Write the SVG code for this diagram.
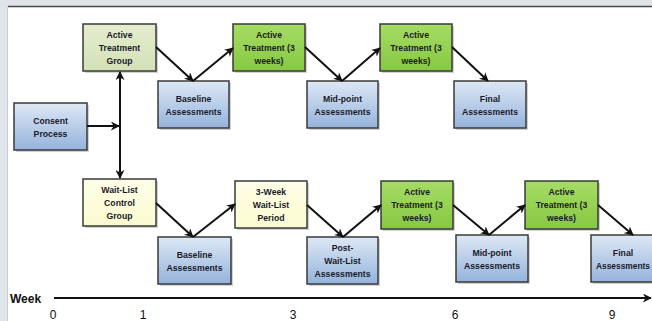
<svg xmlns="http://www.w3.org/2000/svg" width="652" height="321" viewBox="0 0 652 321">
<defs>
<linearGradient id="gBlue" x1="0" y1="0" x2="0" y2="1"><stop offset="0" stop-color="#dde8f5"/><stop offset="1" stop-color="#95b3dc"/></linearGradient>
<linearGradient id="gGreen" x1="0" y1="0" x2="0" y2="1"><stop offset="0" stop-color="#a6dc64"/><stop offset="1" stop-color="#86c843"/></linearGradient>
<linearGradient id="gLG" x1="0" y1="0" x2="0" y2="1"><stop offset="0" stop-color="#e4edcf"/><stop offset="1" stop-color="#d3e1b6"/></linearGradient>
<linearGradient id="gY" x1="0" y1="0" x2="0" y2="1"><stop offset="0" stop-color="#fefee8"/><stop offset="1" stop-color="#fbfbd0"/></linearGradient>
<marker id="ah2" viewBox="0 0 10 10" refX="9" refY="5" markerWidth="9" markerHeight="9" orient="auto-start-reverse" markerUnits="userSpaceOnUse"><path d="M0,0 L10,5 L0,10 L3,5 Z" fill="#111"/></marker>
</defs>
<style>
.box{stroke:#3a3a3a;stroke-width:1.5}
.sh{fill:#000;opacity:0.18}
.t{font-family:"Liberation Sans",Arial,sans-serif;font-weight:bold;font-size:8.7px;fill:#1a1a2a;text-anchor:middle}
.c{stroke:#111;stroke-width:2;fill:none;marker-end:url(#ah2)}
.ax{font-family:"Liberation Sans",Arial,sans-serif;font-size:12px;fill:#111;text-anchor:middle}
</style>
<rect x="0" y="0" width="652" height="321" fill="#dfe4ea"/>
<rect x="8" y="7" width="644" height="314" fill="#ffffff"/>
<line x1="8" y1="6.5" x2="652" y2="6.5" stroke="#4a4a4a" stroke-width="1.5"/>
<line x1="7.5" y1="7" x2="7.5" y2="321" stroke="#c8ced6" stroke-width="1"/>

<g id="consent"><rect class="sh" x="16" y="105" width="73" height="47"/><rect class="box" x="14" y="103" width="73" height="47" fill="url(#gBlue)"/><text class="t" x="50.5" y="124">Consent</text><text class="t" x="50.5" y="137">Process</text></g>

<g id="atg"><rect class="sh" x="85" y="26" width="73" height="47"/><rect class="box" x="83" y="24" width="73" height="47" fill="url(#gLG)"/><text class="t" x="119.5" y="38">Active</text><text class="t" x="119.5" y="51">Treatment</text><text class="t" x="119.5" y="64">Group</text></g>
<g id="base1"><rect class="sh" x="160" y="83" width="71" height="47"/><rect class="box" x="158" y="81" width="71" height="47" fill="url(#gBlue)"/><text class="t" x="193.5" y="102">Baseline</text><text class="t" x="193.5" y="115">Assessments</text></g>
<g id="at1"><rect class="sh" x="235" y="26" width="72" height="47"/><rect class="box" x="233" y="24" width="72" height="47" fill="url(#gGreen)"/><text class="t" x="269" y="38">Active</text><text class="t" x="269" y="51">Treatment (3</text><text class="t" x="269" y="64">weeks)</text></g>
<g id="mid1"><rect class="sh" x="309" y="83" width="71" height="47"/><rect class="box" x="307" y="81" width="71" height="47" fill="url(#gBlue)"/><text class="t" x="342.5" y="102">Mid-point</text><text class="t" x="342.5" y="115">Assessments</text></g>
<g id="at2"><rect class="sh" x="382" y="26" width="72" height="47"/><rect class="box" x="380" y="24" width="72" height="47" fill="url(#gGreen)"/><text class="t" x="416" y="38">Active</text><text class="t" x="416" y="51">Treatment (3</text><text class="t" x="416" y="64">weeks)</text></g>
<g id="final1"><rect class="sh" x="456" y="83" width="72" height="47"/><rect class="box" x="454" y="81" width="72" height="47" fill="url(#gBlue)"/><text class="t" x="490" y="102">Final</text><text class="t" x="490" y="115">Assessments</text></g>

<g id="wl"><rect class="sh" x="85" y="181" width="73" height="47"/><rect class="box" x="83" y="179" width="73" height="47" fill="url(#gY)"/><text class="t" x="119.5" y="193">Wait-List</text><text class="t" x="119.5" y="206">Control</text><text class="t" x="119.5" y="219">Group</text></g>
<g id="base2"><rect class="sh" x="160" y="239" width="73" height="47"/><rect class="box" x="158" y="237" width="73" height="47" fill="url(#gBlue)"/><text class="t" x="194.5" y="258">Baseline</text><text class="t" x="194.5" y="271">Assessments</text></g>
<g id="wait3"><rect class="sh" x="237" y="183" width="72" height="47"/><rect class="box" x="235" y="181" width="72" height="47" fill="url(#gY)"/><text class="t" x="271" y="195">3-Week</text><text class="t" x="271" y="208">Wait-List</text><text class="t" x="271" y="221">Period</text></g>
<g id="post"><rect class="sh" x="309" y="239" width="71" height="47"/><rect class="box" x="307" y="237" width="71" height="47" fill="url(#gBlue)"/><text class="t" x="342.5" y="251">Post-</text><text class="t" x="342.5" y="264">Wait-List</text><text class="t" x="342.5" y="277">Assessments</text></g>
<g id="atb1"><rect class="sh" x="383" y="183" width="72" height="48"/><rect class="box" x="381" y="181" width="72" height="48" fill="url(#gGreen)"/><text class="t" x="417" y="195">Active</text><text class="t" x="417" y="208">Treatment (3</text><text class="t" x="417" y="221">weeks)</text></g>
<g id="midb"><rect class="sh" x="458" y="237" width="72" height="47"/><rect class="box" x="456" y="235" width="72" height="47" fill="url(#gBlue)"/><text class="t" x="492" y="256">Mid-point</text><text class="t" x="492" y="269">Assessments</text></g>
<g id="atb2"><rect class="sh" x="527" y="183" width="73" height="48"/><rect class="box" x="525" y="181" width="73" height="48" fill="url(#gGreen)"/><text class="t" x="561.5" y="195">Active</text><text class="t" x="561.5" y="208">Treatment (3</text><text class="t" x="561.5" y="221">weeks)</text></g>
<g id="finalb"><rect class="sh" x="593" y="237" width="72" height="47"/><rect class="box" x="591" y="235" width="72" height="47" fill="url(#gBlue)"/><text class="t" x="623" y="256">Final</text><text class="t" x="623" y="269" textLength="54" lengthAdjust="spacingAndGlyphs">Assessments</text></g>

<g id="connectors">
<line class="c" x1="87" y1="126" x2="119" y2="126"/>
<line x1="120" y1="72" x2="120" y2="178" stroke="#111" stroke-width="2" marker-start="url(#ah2)" marker-end="url(#ah2)"/>
<line class="c" x1="156" y1="47" x2="193" y2="81"/>
<line class="c" x1="193" y1="81" x2="233" y2="48"/>
<line class="c" x1="305" y1="47" x2="342" y2="81"/>
<line class="c" x1="342" y1="81" x2="380" y2="48"/>
<line class="c" x1="452" y1="47" x2="488" y2="81"/>
<line class="c" x1="156" y1="203" x2="193" y2="237"/>
<line class="c" x1="193" y1="237" x2="235" y2="204"/>
<line class="c" x1="307" y1="205" x2="343" y2="237"/>
<line class="c" x1="343" y1="237" x2="381" y2="205"/>
<line class="c" x1="453" y1="205" x2="489" y2="235"/>
<line class="c" x1="489" y1="235" x2="525" y2="205"/>
<line class="c" x1="598" y1="205" x2="633" y2="235"/>
<line class="c" x1="54" y1="298" x2="651" y2="298"/>
</g>

<g id="axis">
<text x="10" y="303" font-family="'Liberation Sans',Arial,sans-serif" font-weight="bold" font-size="12" fill="#111">Week</text>
<text class="ax" x="53" y="319">0</text>
<text class="ax" x="143" y="319">1</text>
<text class="ax" x="293" y="319">3</text>
<text class="ax" x="455" y="319">6</text>
<text class="ax" x="612" y="319">9</text>
</g>
</svg>
